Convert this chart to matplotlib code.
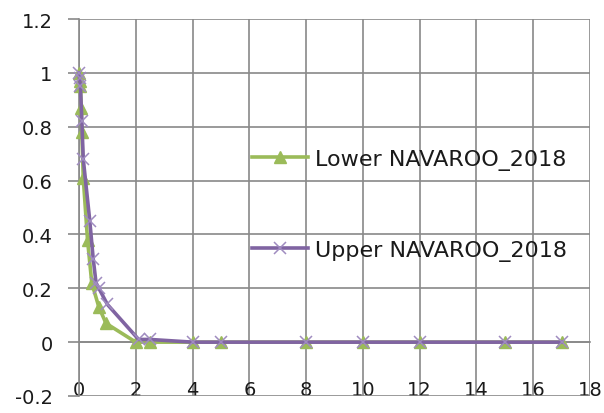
import matplotlib
matplotlib.use("Agg")
import matplotlib.pyplot as plt

# Data
lower_x = [0, 0.02, 0.05, 0.08, 0.1, 0.15, 0.3, 0.45, 0.7, 0.95, 2, 2.5, 4, 5, 8, 10, 12, 15, 17]
lower_y = [1.0, 0.97, 0.95, 0.87, 0.78, 0.61, 0.38, 0.22, 0.13, 0.07, 0, 0, 0, 0, 0, 0, 0, 0, 0]
upper_x = [0, 0.02, 0.05, 0.1, 0.15, 0.38, 0.5, 0.6, 0.7, 1.0, 2.1, 2.5, 4, 5, 8, 10, 12, 15, 17]
upper_y = [1.0, 0.98, 0.95, 0.82, 0.68, 0.45, 0.31, 0.22, 0.2, 0.14, 0.01, 0.01, 0, 0, 0, 0, 0, 0, 0]
lower_label = "Lower NAVAROO_2018"
upper_label = "Upper NAVAROO_2018"
x_ticks = [0, 2, 4, 6, 8, 10, 12, 14, 16, 18]
y_ticks = [-0.2, 0, 0.2, 0.4, 0.6, 0.8, 1.0, 1.2]
y_tick_labels = ["-0.2", "0", "0.2", "0.4", "0.6", "0.8", "1", "1.2"]

GREEN = "#9BBB59"
PURPLE = "#8064A2"
GRID = "#898989"
TXT = "#1a1a1a"

plt.rcParams['font.family'] = ['DejaVu Sans']

fig = plt.figure(figsize=(6.04, 4.14), dpi=100)
ax = fig.add_axes([79/604, 1 - 397/414, (590-79)/604, (397-20)/414])

ax.set_xlim(0, 18)
ax.set_ylim(-0.2, 1.2)
ax.set_xticks(x_ticks)
ax.set_yticks(y_ticks)
ax.set_yticklabels(y_tick_labels)
ax.grid(True, color=GRID, linewidth=1.2)
ax.set_axisbelow(True)

for s in ['top', 'right']:
    ax.spines[s].set_visible(False)
ax.spines['left'].set_color(GRID)
ax.spines['left'].set_linewidth(1.2)
ax.spines['bottom'].set_position(('data', 0))
ax.spines['bottom'].set_color(GRID)
ax.spines['bottom'].set_linewidth(1.2)

ax.tick_params(axis='y', length=8, width=1.2, color=GRID, pad=11, labelsize=14, labelcolor=TXT)
ax.tick_params(axis='x', length=0, pad=27, labelsize=14, labelcolor=TXT)

l1, = ax.plot(lower_x, lower_y, color=GREEN, lw=2.6, marker='^', markersize=8.5,
              markeredgecolor=GREEN, clip_on=False, zorder=3, label=lower_label)
l2, = ax.plot(upper_x, upper_y, color=PURPLE, lw=2.6, marker='x', markersize=8.5,
              markeredgecolor="#A08CC0", markeredgewidth=1.1, clip_on=False, zorder=4,
              label=upper_label)

leg = ax.legend(handles=[l1, l2], loc='upper left', bbox_to_anchor=(252/604, 1 - 150/414),
                bbox_transform=fig.transFigure, frameon=False, fontsize=16,
                labelspacing=3.15, handlelength=2.5, handletextpad=0.33, borderpad=0,
                borderaxespad=0)
for t in leg.get_texts():
    t.set_color(TXT)

fig.savefig("out.png", dpi=100)
